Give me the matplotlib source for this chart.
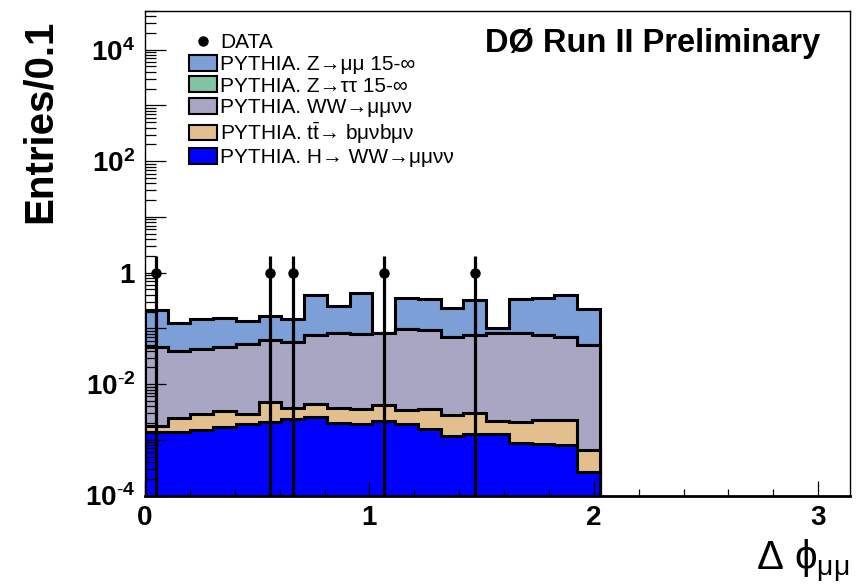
import numpy as np
import matplotlib
matplotlib.use("Agg")
import matplotlib.pyplot as plt
from matplotlib.patches import Patch
from matplotlib.lines import Line2D
from matplotlib.ticker import LogLocator, FuncFormatter, MultipleLocator, NullFormatter

plt.rcParams['font.family'] = ['Liberation Sans', 'DejaVu Sans']
plt.rcParams['mathtext.fontset'] = 'custom'
plt.rcParams['mathtext.rm'] = 'Liberation Sans'
plt.rcParams['mathtext.bf'] = 'Liberation Sans:bold'
plt.rcParams['mathtext.it'] = 'Liberation Sans:italic'

# ---------------- data ----------------
n_bins_axis = 31            # histogram binning over 0..pi
x_max = np.pi
n_filled = 20               # bins with entries

h_ww_mumununu = [1.39e-3, 1.39e-3, 1.52e-3, 1.70e-3, 1.96e-3, 2.10e-3, 2.40e-3, 2.60e-3, 2.00e-3, 1.96e-3,
                 2.20e-3, 1.96e-3, 1.54e-3, 1.17e-3, 1.30e-3, 1.30e-3, 8.9e-4, 8.4e-4, 8.0e-4, 2.6e-4]
ttbar = [3.7e-4, 1.09e-3, 1.44e-3, 1.60e-3, 1.00e-3, 2.70e-3, 1.40e-3, 1.80e-3, 1.80e-3, 1.64e-3,
         2.00e-3, 1.54e-3, 2.06e-3, 1.59e-3, 1.70e-3, 9.0e-4, 1.21e-3, 1.46e-3, 1.50e-3, 4.0e-4]
ww_mumununu = [0.0442, 0.0375, 0.0400, 0.0427, 0.0500, 0.0562, 0.0532, 0.0706, 0.0772, 0.0744,
               0.0768, 0.0955, 0.0884, 0.0672, 0.0740, 0.0818, 0.0789, 0.0727, 0.0677, 0.0503]
z_tautau = [0.0] * 20
z_mumu = [0.164, 0.087, 0.102, 0.108, 0.081, 0.106, 0.088, 0.325, 0.169, 0.362,
          0.0, 0.251, 0.238, 0.160, 0.243, 0.016, 0.249, 0.275, 0.320, 0.169]
data_counts = [1, 0, 0, 0, 0, 1, 1, 0, 0, 0, 1, 0, 0, 0, 1, 0, 0, 0, 0, 0]

labels = ["PYTHIA. Z\u2192\u03bc\u03bc 15-\u221e",
          "PYTHIA. Z\u2192\u03c4\u03c4 15-\u221e",
          "PYTHIA. WW\u2192\u03bc\u03bc\u03bd\u03bd",
          r"PYTHIA. $\mathregular{t\bar{t}}$" + "\u2192 b\u03bc\u03bdb\u03bc\u03bd",
          "PYTHIA. H\u2192 WW\u2192\u03bc\u03bc\u03bd\u03bd"]
colors = ['#7c9fd7', '#80c4a4', '#a9a6c4', '#e2bf8c', '#0000ff']

y_min, y_max = 1e-4, 5e4

# ---------------- figure ----------------
W, H = 861, 585
fig = plt.figure(figsize=(W / 100, H / 100), dpi=100)
ax = fig.add_axes([145 / W, 1 - 495.6 / H, (850 - 145) / W, (495.6 - 10.7) / H])
ax.set_yscale('log')
ax.set_xlim(0, x_max)
ax.set_ylim(y_min, y_max)

edges = np.linspace(0, x_max, n_bins_axis + 1)[:n_filled + 1]
centers = 0.5 * (edges[:-1] + edges[1:])

# stack bottom -> top: H, ttbar, WW, Ztautau, Zmumu
components = [np.array(h_ww_mumununu), np.array(ttbar), np.array(ww_mumununu),
              np.array(z_tautau), np.array(z_mumu)]
stack_colors = colors[::-1]
cums = np.cumsum(components, axis=0)
for i in range(len(components) - 1, -1, -1):
    ax.stairs(cums[i], edges, baseline=y_min, fill=True, facecolor=stack_colors[i],
              edgecolor='none', zorder=2 + (4 - i) * 0.1)
    ax.stairs(cums[i], edges, baseline=y_min, fill=False, color='black', lw=2.2,
              zorder=2.05 + (4 - i) * 0.1)

# data
dc = np.array(data_counts, dtype=float)
m = dc > 0
ax.errorbar(centers[m], dc[m], yerr=np.sqrt(dc[m]), fmt='o', color='black', ms=6.5,
            elinewidth=2.3, capsize=0, zorder=5, clip_on=True)

# ticks
ax.yaxis.set_major_locator(LogLocator(base=10, numticks=20))
ax.yaxis.set_minor_locator(LogLocator(base=10, subs=np.arange(2, 10), numticks=20))

def yfmt(v, pos):
    e = int(round(np.log10(v)))
    if e == 0:
        return r'$\mathbf{1}$'
    if e % 2 == 0:
        if e < 0:
            return r'$\mathbf{10^{\text{-}%d}}$' % (-e)
        return r'$\mathbf{10^{%d}}$' % e
    return ''

ax.yaxis.set_major_formatter(FuncFormatter(yfmt))
ax.yaxis.set_minor_formatter(NullFormatter())
ax.xaxis.set_major_locator(MultipleLocator(1))
ax.xaxis.set_minor_locator(MultipleLocator(0.2))
ax.xaxis.set_major_formatter(FuncFormatter(lambda v, p: '%d' % round(v)))

ax.tick_params(axis='y', which='major', direction='in', length=15, width=0.9,
               labelsize=20, pad=7, right=False)
ax.tick_params(axis='y', which='minor', direction='in', length=7.6, width=0.9, right=False)
ax.tick_params(axis='x', which='major', direction='in', length=10.5, width=0.9,
               labelsize=20, pad=7, top=False)
ax.tick_params(axis='x', which='minor', direction='in', length=5.2, width=0.9, top=False)
for lab in ax.get_xticklabels():
    lab.set_fontweight('bold')
for s in ['top', 'right', 'left']:
    ax.spines[s].set_linewidth(1.0)
ax.spines['bottom'].set_linewidth(2.0)
ax.set_axisbelow(False)

# legend
handles = [Line2D([], [], marker='o', color='black', ls='none', ms=6.5)]
handles += [Patch(facecolor=c, edgecolor='black', lw=1.5) for c in colors]
leg = ax.legend(handles, ['DATA'] + labels, loc='upper left',
                bbox_to_anchor=(189 / W, 1 - 33 / H), bbox_transform=fig.transFigure,
                frameon=False, fontsize=15, handlelength=1.35, handleheight=0.8,
                handletextpad=0.15, labelspacing=0.12, borderpad=0, borderaxespad=0)

fig.text(820 / W, 1 - 52 / H, 'D\u00d8 Run II Preliminary', fontsize=23.5,
         fontweight='bold', ha='right', va='baseline')
fig.text(40 / W, 1 - 20 / H, 'Entries/0.1', fontsize=29, fontweight='bold',
         rotation=90, ha='center', va='top')
fig.text(849 / W, 1 - 570 / H, r'$\mathregular{\Delta\ \phi_{\mu\mu}}$', fontsize=29,
         ha='right', va='baseline')

fig.savefig('out.png', dpi=100)
